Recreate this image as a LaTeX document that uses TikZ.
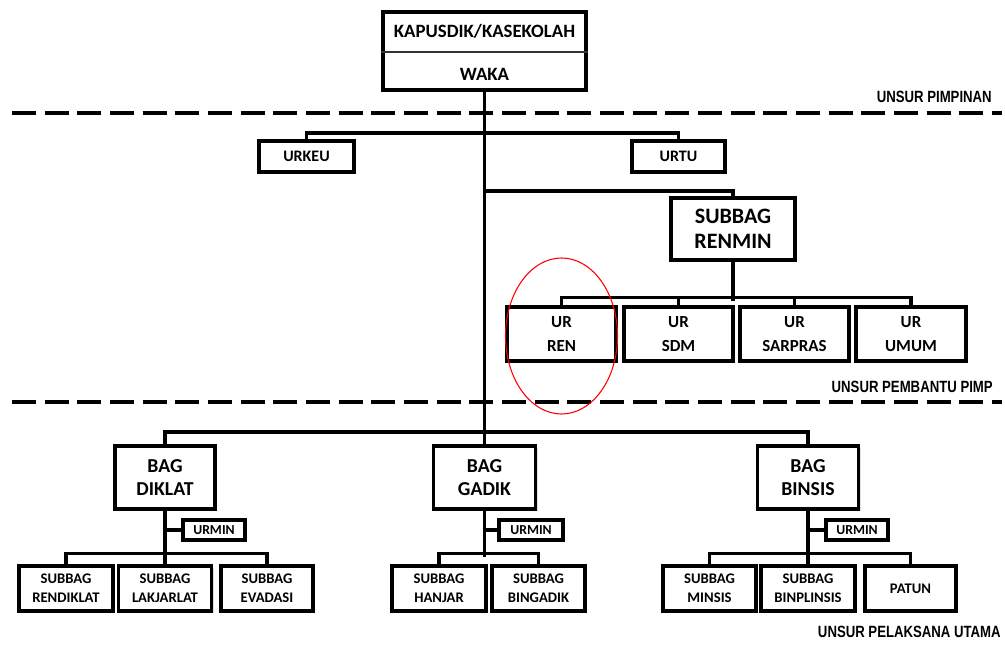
\documentclass[tikz,border=0pt]{standalone}
\usepackage{fontspec}
\setmainfont{Carlito}
\newfontfamily\labelfont[FakeStretch=0.81]{Liberation Sans}
\usetikzlibrary{shadows}

\tikzset{
  unit/.style={x=0.75pt,y=-0.75pt},
  box/.style={draw=black, line width=2.4pt, fill=white, align=center,
    inner sep=0pt, font=\bfseries,
    drop shadow={shadow xshift=1.6pt, shadow yshift=-1.6pt, fill=black!30, opacity=0.4}},
  size/.style 2 args={minimum width=#1*0.75pt, minimum height=#2*0.75pt},
  conn/.style={line width=2.3pt},
  divider/.style={line width=2.3pt, dash pattern=on 18pt off 6.5pt},
  tag/.style={font=\labelfont\bfseries\fontsize{12.2pt}{13pt}\selectfont, anchor=east, inner sep=0pt},
  f14/.style={font=\bfseries\fontsize{14.1pt}{16pt}\selectfont},
  f148/.style={font=\bfseries\fontsize{14.8pt}{17pt}\selectfont},
  f165/.style={font=\bfseries\fontsize{16.5pt}{19pt}\selectfont},
  f127/.style={font=\bfseries\fontsize{12.7pt}{18pt}\selectfont},
  f12/.style={font=\bfseries\fontsize{12pt}{14pt}\selectfont},
  f11/.style={font=\bfseries\fontsize{11pt}{14.5pt}\selectfont},
  f105/.style={font=\bfseries\fontsize{10.3pt}{12pt}\selectfont},
}

\begin{document}
\begin{tikzpicture}[unit]
\useasboundingbox (0,0) rectangle (1005,648);

% section dividers
\draw[divider] (12,113) -- (1002,113);
\draw[divider] (12,402) -- (1002,402);
\node[tag] (t1) at (992,97) {UNSUR PIMPINAN};
\node[tag] (t2) at (993,387) {UNSUR PEMBANTU PIMP};
\node[tag] (t3) at (1001,632) {UNSUR PELAKSANA UTAMA};

% head
\node[box, size={203}{78}] (top) at (484.5,51) {};
\node[f14] (kapus) at (484.5,31) {KAPUSDIK/KASEKOLAH};
\node[f14] (waka) at (484.5,74) {WAKA};
\draw[line width=0.8pt, black!80] (top.west |- 0,52) -- (top.east |- 0,52);

% staff
\node[box, f12, size={95}{31}] (urkeu) at (306.5,156.5) {URKEU};
\node[box, f12, size={93}{31}] (urtu) at (678.5,156.5) {URTU};
\node[box, f165, size={124}{62}] (renmin) at (733,229) {SUBBAG\\RENMIN};

\node[box, f127, size={109}{54}] (ren) at (561.5,334) {UR\\REN};
\node[box, f127, size={109}{54}] (sdm) at (678.5,334) {UR\\SDM};
\node[box, f127, size={109}{54}] (sarpras) at (794.5,334) {UR\\SARPRAS};
\node[box, f127, size={110}{54}] (umum) at (911,334) {UR\\UMUM};

% departments
\node[box, f148, size={100}{63}] (diklat) at (165,477.5) {BAG\\DIKLAT};
\node[box, f148, size={102}{63}] (gadik) at (484.5,477.5) {BAG\\GADIK};
\node[box, f148, size={101}{63}] (binsis) at (808,477.5) {BAG\\BINSIS};

\node[box, f105, size={62}{20}] (urmin1) at (214,530) {URMIN};
\node[box, f105, size={64}{20}] (urmin2) at (531,530) {URMIN};
\node[box, f105, size={62}{20}] (urmin3) at (857,530) {URMIN};

\node[box, f11, size={94}{45}] (rendiklat) at (66,588.5) {SUBBAG\\RENDIKLAT};
\node[box, f11, size={93}{45}] (lakjarlat) at (165,588.5) {SUBBAG\\LAKJARLAT};
\node[box, f11, size={92}{45}] (evadasi) at (267,588.5) {SUBBAG\\EVADASI};

\node[box, f11, size={94}{45}] (hanjar) at (439,588.5) {SUBBAG\\HANJAR};
\node[box, f11, size={93}{45}] (bingadik) at (538.5,588.5) {SUBBAG\\BINGADIK};

\node[box, f11, size={93}{45}] (minsis) at (709.5,588.5) {SUBBAG\\MINSIS};
\node[box, f11, size={94}{45}] (binplinsis) at (808,588.5) {SUBBAG\\BINPLINSIS};
\node[box, f11, size={91}{45}] (patun) at (910.5,588.5) {PATUN};

% junction points on the trunk
\coordinate (j0) at (484.5,133);
\coordinate (j1) at (484.5,191);
\coordinate (j3) at (484.5,432);

% connectors
\begin{scope}[conn]
\draw (top.south) -- (gadik.north);
\draw (urkeu.north) |- (j0) -| (urtu.north);
\draw (j1) -| (renmin.north);
\draw (renmin.south) -- ++(0,39);
\draw (ren.north) -- ++(0,-8) -| (umum.north);
\draw (sdm.north) -- ++(0,-8);
\draw (sarpras.north) -- ++(0,-8);
\draw (diklat.north) |- (j3) -| (binsis.north);

\draw (diklat.south) -- (lakjarlat.north);
\draw (urmin1.west) -- (diklat.south |- urmin1.west);
\draw (rendiklat.north) -- ++(0,-11) -| (evadasi.north);

\draw (gadik.south) -- ++(0,46);
\draw (urmin2.west) -- (gadik.south |- urmin2.west);
\draw (hanjar.north) -- ++(0,-11) -| (bingadik.north);

\draw (binsis.south) -- (binplinsis.north);
\draw (urmin3.west) -- (binsis.south |- urmin3.west);
\draw (minsis.north) -- ++(0,-11) -| (patun.north);
\end{scope}

% highlight
\draw[red, line width=0.8pt] (ren.center) ++(0,2) ellipse [x radius=56, y radius=78];
\end{tikzpicture}
\end{document}
